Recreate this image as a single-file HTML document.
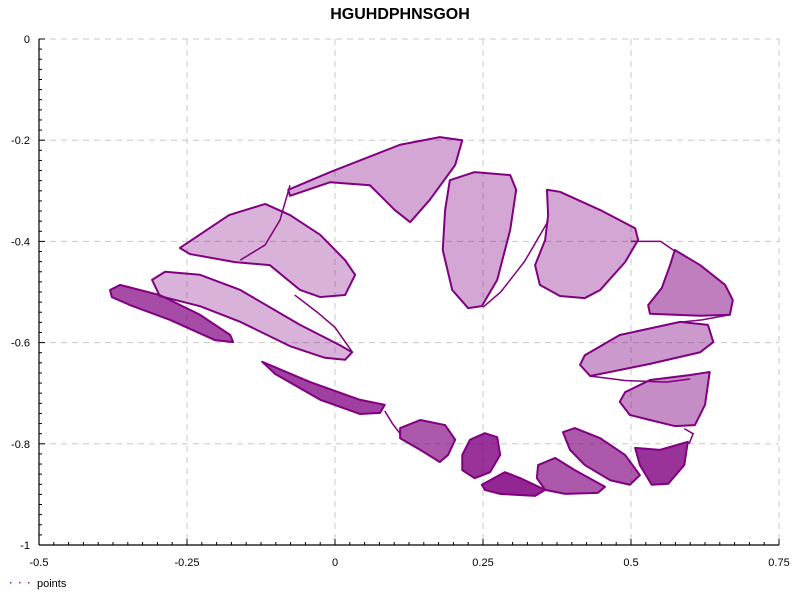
<!DOCTYPE html>
<html><head><meta charset="utf-8"><style>
body{margin:0;background:#fff;}
svg{display:block;font-family:"Liberation Sans","DejaVu Sans",sans-serif;}
</style></head><body>
<svg id="chart" width="800" height="600">
<text x="400" y="19" text-anchor="middle" font-size="16" font-weight="bold" fill="#000">HGUHDPHNSGOH</text>
<g id="grid"></g>
<g id="marks"></g>
<g id="axes"></g>
<g>
<g fill="#c000c0">
<rect x="10" y="582" width="1.5" height="1.5"/><rect x="19" y="582" width="1.5" height="1.5"/><rect x="28" y="582" width="1.5" height="1.5"/>
</g>
<text x="37" y="587" font-size="11" fill="#000">points</text>
</g>
</svg>
<script>
const xTicks = [-0.5, -0.25, 0, 0.25, 0.5, 0.75];
const xTickLabels = ["-0.5", "-0.25", "0", "0.25", "0.5", "0.75"];
const yTicks = [0, -0.2, -0.4, -0.6, -0.8, -1];
const yTickLabels = ["0", "-0.2", "-0.4", "-0.6", "-0.8", "-1"];
const lobeNames = ["top-lobe","left-triangle-lobe","middle-long-lobe","leftmost-lobe","lower-left-band","tall-lobe","upper-right-lobe","right-lobe","right-mid-lobe","right-lower-lobe","bottom-lobe-a","bottom-lobe-b","bottom-lobe-c","bottom-lobe-d","bottom-lobe-e","bottom-lobe-f"];
const lobeX = [
[-0.079,-0.008,0.110,0.177,0.215,0.203,0.160,0.127,0.101,0.059,-0.008,-0.076],
[-0.262,-0.179,-0.118,-0.076,-0.025,0.017,0.034,0.017,-0.025,-0.059,-0.110,-0.169,-0.245],
[-0.309,-0.287,-0.228,-0.160,-0.059,0.008,0.029,0.017,-0.017,-0.076,-0.160,-0.228,-0.296],
[-0.380,-0.363,-0.296,-0.228,-0.177,-0.172,-0.203,-0.279,-0.346,-0.377],
[-0.123,-0.042,0.042,0.084,0.076,0.042,-0.025,-0.101],
[0.194,0.236,0.296,0.306,0.296,0.274,0.248,0.225,0.198,0.182,0.186],
[0.358,0.380,0.448,0.507,0.512,0.490,0.448,0.422,0.380,0.346,0.338,0.355,0.360],
[0.574,0.617,0.659,0.672,0.667,0.617,0.532,0.529,0.552,0.566],
[0.422,0.481,0.583,0.630,0.639,0.617,0.532,0.465,0.431,0.414],
[0.490,0.532,0.600,0.633,0.625,0.608,0.574,0.532,0.498,0.481],
[0.110,0.144,0.186,0.203,0.191,0.177,0.144,0.110],
[0.228,0.253,0.274,0.279,0.262,0.236,0.215,0.215],
[0.248,0.287,0.313,0.355,0.338,0.279,0.253],
[0.343,0.372,0.405,0.456,0.444,0.389,0.355,0.341],
[0.385,0.405,0.448,0.490,0.515,0.498,0.465,0.422,0.397],
[0.507,0.549,0.596,0.590,0.563,0.535,0.515]
];
const lobeY = [
[-0.298,-0.263,-0.209,-0.194,-0.200,-0.249,-0.318,-0.362,-0.338,-0.289,-0.283,-0.310],
[-0.413,-0.348,-0.326,-0.348,-0.387,-0.437,-0.466,-0.506,-0.510,-0.496,-0.447,-0.441,-0.425],
[-0.476,-0.460,-0.466,-0.496,-0.565,-0.605,-0.619,-0.634,-0.630,-0.607,-0.559,-0.528,-0.508],
[-0.496,-0.486,-0.506,-0.545,-0.585,-0.599,-0.595,-0.555,-0.526,-0.510],
[-0.638,-0.678,-0.713,-0.723,-0.739,-0.741,-0.713,-0.662],
[-0.279,-0.263,-0.269,-0.298,-0.377,-0.476,-0.528,-0.532,-0.496,-0.417,-0.338],
[-0.298,-0.302,-0.338,-0.374,-0.397,-0.441,-0.496,-0.512,-0.508,-0.486,-0.447,-0.397,-0.348],
[-0.417,-0.447,-0.486,-0.516,-0.545,-0.547,-0.543,-0.526,-0.492,-0.447],
[-0.625,-0.585,-0.559,-0.565,-0.599,-0.619,-0.642,-0.658,-0.666,-0.644],
[-0.698,-0.674,-0.664,-0.658,-0.723,-0.763,-0.765,-0.753,-0.743,-0.717],
[-0.769,-0.753,-0.763,-0.792,-0.822,-0.836,-0.812,-0.789],
[-0.792,-0.779,-0.787,-0.822,-0.856,-0.868,-0.852,-0.822],
[-0.881,-0.856,-0.868,-0.891,-0.903,-0.899,-0.891],
[-0.842,-0.828,-0.852,-0.885,-0.897,-0.899,-0.891,-0.868],
[-0.777,-0.769,-0.789,-0.822,-0.862,-0.881,-0.872,-0.842,-0.812],
[-0.808,-0.812,-0.796,-0.842,-0.879,-0.881,-0.842]
];
const lobeDensity = [0.35,0.3,0.3,0.7,0.75,0.35,0.35,0.5,0.4,0.45,0.65,0.8,0.85,0.65,0.65,0.8];
const linkX = [
[-0.076,-0.093,-0.118,-0.160],
[-0.068,-0.030,0.000,0.030],
[0.084,0.097,0.110],
[0.250,0.280,0.320,0.360],
[0.500,0.550,0.575],
[0.667,0.620,0.580],
[0.430,0.490,0.560,0.600],
[0.590,0.605,0.598]
];
const linkY = [
[-0.289,-0.358,-0.407,-0.437],
[-0.506,-0.540,-0.570,-0.620],
[-0.735,-0.760,-0.780],
[-0.530,-0.500,-0.440,-0.360],
[-0.400,-0.400,-0.420],
[-0.545,-0.555,-0.560],
[-0.666,-0.675,-0.678,-0.672],
[-0.770,-0.780,-0.800]
];

const X0=39, X1=779, Y0=545, Y1=39;
const sx = v => X0 + (v - (-0.5)) / 1.25 * (X1 - X0);
const sy = v => Y0 - (v - (-1)) / 1 * (Y0 - Y1);
const NS='http://www.w3.org/2000/svg';
function mk(tag, attrs, parent){const e=document.createElementNS(NS,tag);for(const k in attrs)e.setAttribute(k,attrs[k]);parent.appendChild(e);return e;}
const grid=document.getElementById('grid'), axes=document.getElementById('axes'), marks=document.getElementById('marks');

xTicks.forEach((t,i)=>{
  if(i>0){const l=mk('line',{x1:sx(t),x2:sx(t),y1:Y1,y2:Y0,stroke:'#c8c8c8','stroke-dasharray':'6,5'},grid);
  
  }
  const tx=mk('text',{x:sx(t),y:566,'text-anchor':'middle','font-size':11,fill:'#000'},axes);
  tx.textContent=xTickLabels[i];
  
  
});
yTicks.forEach((t,i)=>{
  if(i<yTicks.length-1){const l=mk('line',{x1:X0,x2:X1,y1:sy(t),y2:sy(t),stroke:'#c8c8c8','stroke-dasharray':'6,5'},grid);
  
  }
  const tx=mk('text',{x:30,y:sy(t)+4,'text-anchor':'end','font-size':11,fill:'#000'},axes);
  tx.textContent=yTickLabels[i];
  
  
});
for(let k=0;k<=50;k++){const v=-0.5+k*0.025;const major=k%10===0;
  mk('line',{x1:sx(v),x2:sx(v),y1:Y0,y2:Y0-(major?6:3),stroke:'#000'},axes);}
for(let k=0;k<=50;k++){const v=-1+k*0.02;const major=k%10===0;
  mk('line',{x1:X0,x2:X0+(major?6:3),y1:sy(v),y2:sy(v),stroke:'#000'},axes);}
const xa=mk('line',{x1:X0,x2:X1,y1:Y0,y2:Y0,stroke:'#000','stroke-width':1.2},axes);


const ya=mk('line',{x1:X0,x2:X0,y1:Y1,y2:Y0,stroke:'#000','stroke-width':1.2},axes);



lobeX.forEach((xs,i)=>{
  const pts=xs.map((x,j)=>sx(x)+','+sy(lobeY[i][j])).join(' ');
  const p=mk('polygon',{points:pts,fill:'#800080','fill-opacity':lobeDensity[i],stroke:'#800080','stroke-width':2,'stroke-linejoin':'round'},marks);
  
  
});
linkX.forEach((xs,i)=>{
  const pts=xs.map((x,j)=>sx(x)+','+sy(linkY[i][j])).join(' ');
  const p=mk('polyline',{points:pts,fill:'none',stroke:'#800080','stroke-width':1.5},marks);
  
  
});
</script>
</body></html>
